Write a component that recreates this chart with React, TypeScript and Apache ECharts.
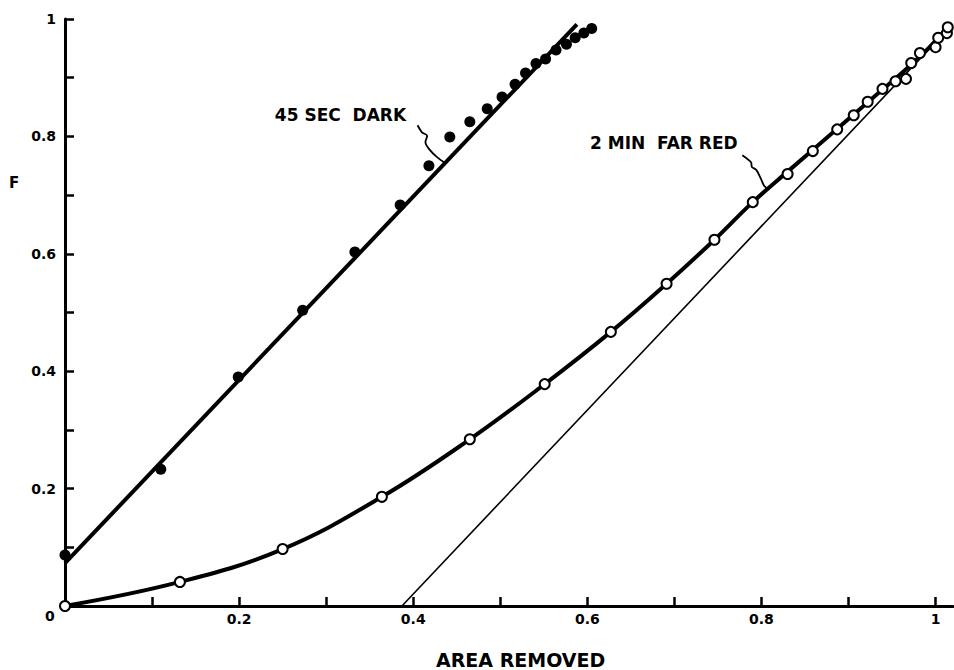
import React, { useEffect, useRef } from "react";
import * as echarts from "echarts";

// 45 SEC DARK (filled dots)
const darkPoints: number[][] = [
  [0.0, 0.087], [0.110, 0.233], [0.199, 0.390], [0.273, 0.504], [0.333, 0.603],
  [0.385, 0.683], [0.418, 0.750], [0.442, 0.799], [0.465, 0.825], [0.485, 0.847],
  [0.502, 0.867], [0.517, 0.889], [0.529, 0.908], [0.541, 0.924], [0.552, 0.932],
  [0.564, 0.947], [0.576, 0.957], [0.586, 0.968], [0.596, 0.976], [0.605, 0.984],
];
// fitted straight line for 45 SEC DARK
const darkFit: number[][] = [[0.0, 0.073], [0.588, 0.991]];

// 2 MIN FAR RED (open circles)
const farRedPoints: number[][] = [
  [0.0, 0.0], [0.132, 0.041], [0.250, 0.097], [0.364, 0.186], [0.465, 0.284],
  [0.551, 0.378], [0.627, 0.467], [0.691, 0.549], [0.746, 0.624], [0.790, 0.688],
  [0.830, 0.736], [0.859, 0.775], [0.887, 0.812], [0.906, 0.836], [0.922, 0.859],
  [0.939, 0.881], [0.954, 0.894], [0.966, 0.898], [0.972, 0.925], [0.982, 0.942],
  [1.000, 0.952], [1.003, 0.968], [1.013, 0.976], [1.014, 0.986],
];
// smooth curve for 2 MIN FAR RED
const farRedCurve: number[][] = [
  [0.0, 0.0], [0.132, 0.041], [0.250, 0.097], [0.364, 0.186], [0.465, 0.284],
  [0.551, 0.378], [0.627, 0.467], [0.691, 0.549], [0.746, 0.624], [0.790, 0.688],
  [0.830, 0.740], [0.887, 0.813], [0.940, 0.881], [0.985, 0.940], [1.015, 0.988],
];
// thin straight asymptote
const thinLine: number[][] = [[0.387, 0.0], [1.01, 0.976]];

// annotation leaders (data coordinates)
const darkLeader: number[][] = [
  [0.405, 0.819], [0.410, 0.807], [0.416, 0.801], [0.414, 0.790],
  [0.419, 0.777], [0.427, 0.765], [0.436, 0.755],
];
const farRedLeader: number[][] = [
  [0.778, 0.768], [0.788, 0.756], [0.789, 0.748], [0.794, 0.743],
  [0.799, 0.729], [0.803, 0.716], [0.809, 0.709],
];
const annotations = [
  { text: "45 SEC  DARK", at: [0.241, 0.836] },
  { text: "2 MIN  FAR RED", at: [0.603, 0.789] },
];

const xTickValues = [0.1, 0.2, 0.3, 0.4, 0.5, 0.6, 0.7, 0.8, 0.9, 1.0];
const xLabelValues = [0.2, 0.4, 0.6, 0.8, 1.0];
const xLabels = ["0.2", "0.4", "0.6", "0.8", "1"];
const yTickValues = [0.1, 0.2, 0.3, 0.4, 0.5, 0.6, 0.7, 0.8, 0.9, 1.0];
const yLabelValues = [0.2, 0.4, 0.6, 0.8, 1.0];
const yLabels = ["0.2", "0.4", "0.6", "0.8", "1"];

const FONT = "DejaVu Sans";

export default function App() {
  const ref = useRef<HTMLDivElement>(null);
  useEffect(() => {
    document.body.style.margin = "0";
    const chart = echarts.init(ref.current!, null, { renderer: "svg" });
    const labelText = (vals: number[], labels: string[]) => (v: number) => {
      const i = vals.findIndex((u) => Math.abs(u - v) < 1e-6);
      return i >= 0 ? labels[i] : "";
    };
    const textStyle = { fontFamily: FONT, fontWeight: "bold" as const, color: "#000" };
    chart.setOption({
      animation: false,
      backgroundColor: "#fff",
      grid: { left: 65, right: 1, top: 19, bottom: 64 },
      xAxis: {
        type: "value",
        min: 0,
        max: 1.02,
        axisLine: { lineStyle: { color: "#000", width: 3 } },
        axisTick: { inside: true, length: 9, customValues: xTickValues, lineStyle: { color: "#000", width: 2.5 } },
        axisLabel: {
          customValues: xLabelValues,
          formatter: labelText(xLabelValues, xLabels),
          margin: 6,
          fontSize: 14,
          ...textStyle,
        },
        splitLine: { show: false },
      },
      yAxis: {
        type: "value",
        min: 0,
        max: 1,
        axisLine: { lineStyle: { color: "#000", width: 3 } },
        axisTick: { inside: true, length: 9, customValues: yTickValues, lineStyle: { color: "#000", width: 2.5 } },
        axisLabel: {
          customValues: yLabelValues,
          formatter: labelText(yLabelValues, yLabels),
          margin: 9,
          fontSize: 14,
          ...textStyle,
        },
        splitLine: { show: false },
      },
      graphic: [
        { type: "text", left: 9, top: 175, style: { text: "F", font: `bold 15px "${FONT}"`, fill: "#000" } },
        { type: "text", left: 45, top: 609, style: { text: "0", font: `bold 14px "${FONT}"`, fill: "#000" } },
        { type: "text", left: 436, top: 650, style: { text: "AREA REMOVED", font: `bold 19px "${FONT}"`, fill: "#000" } },
      ],
      series: [
        {
          type: "line",
          data: thinLine,
          symbol: "none",
          lineStyle: { color: "#000", width: 1.6 },
          z: 2,
        },
        {
          type: "line",
          data: darkFit,
          symbol: "none",
          lineStyle: { color: "#000", width: 4 },
          z: 3,
        },
        {
          type: "line",
          data: farRedCurve,
          symbol: "none",
          smooth: 0.4,
          lineStyle: { color: "#000", width: 4 },
          z: 3,
        },
        {
          type: "line",
          data: darkLeader,
          symbol: "none",
          smooth: 0.3,
          lineStyle: { color: "#000", width: 1.8 },
          z: 3,
        },
        {
          type: "line",
          data: farRedLeader,
          symbol: "none",
          smooth: 0.3,
          lineStyle: { color: "#000", width: 1.8 },
          z: 3,
        },
        {
          type: "scatter",
          data: darkPoints,
          symbol: "circle",
          symbolSize: 11,
          itemStyle: { color: "#000", opacity: 1 },
          z: 4,
        },
        {
          type: "scatter",
          data: farRedPoints,
          symbol: "circle",
          symbolSize: 10,
          itemStyle: { color: "#fff", borderColor: "#000", borderWidth: 2, opacity: 1 },
          z: 5,
        },
        {
          type: "scatter",
          data: annotations.map((a) => ({ value: a.at, name: a.text })),
          symbolSize: 0,
          itemStyle: { opacity: 1 },
          label: {
            show: true,
            position: "right",
            distance: 0,
            formatter: (p: any) => p.name,
            fontSize: 17,
            ...textStyle,
          },
          z: 6,
        },
      ],
    });
    return () => chart.dispose();
  }, []);
  return <div ref={ref} style={{ width: 954, height: 670 }} />;
}
